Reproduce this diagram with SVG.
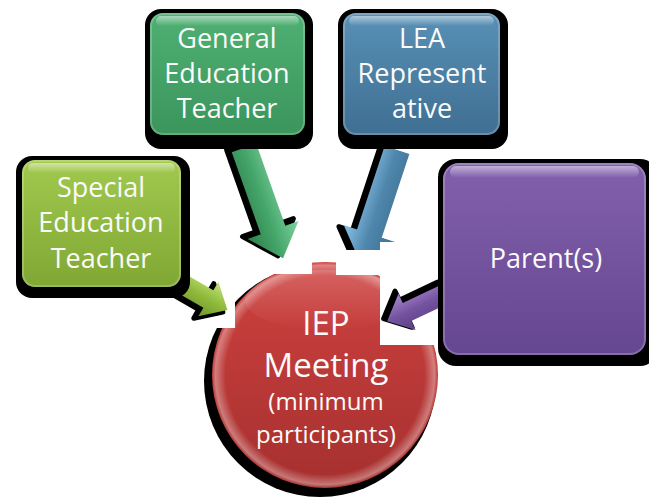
<svg xmlns="http://www.w3.org/2000/svg" width="649" height="498" viewBox="0 0 649 498">
<defs>
<style>
.t{font-family:"Open Sans","Liberation Sans",sans-serif;fill:#fbfbfb;text-anchor:middle}
.bt{font-size:27px}
.sh{fill:#000}
.ash{fill:#000;stroke:#000;stroke-width:5;stroke-linejoin:round}
.hl{fill:url(#gloss)}
.rim{fill:none;stroke:#ffffff;stroke-opacity:0.22;stroke-width:2}
</style>
<linearGradient id="gY" x1="0" y1="0" x2="0" y2="1"><stop offset="0" stop-color="#a2c94e"/><stop offset="1" stop-color="#7fa733"/></linearGradient>
<linearGradient id="gG" x1="0" y1="0" x2="0" y2="1"><stop offset="0" stop-color="#4fb073"/><stop offset="1" stop-color="#3b955c"/></linearGradient>
<linearGradient id="gB" x1="0" y1="0" x2="0" y2="1"><stop offset="0" stop-color="#5890b6"/><stop offset="1" stop-color="#3f6f92"/></linearGradient>
<linearGradient id="gP" x1="0" y1="0" x2="0" y2="1"><stop offset="0" stop-color="#8260ad"/><stop offset="1" stop-color="#654690"/></linearGradient>
<linearGradient id="gR" x1="0" y1="0" x2="0" y2="1"><stop offset="0" stop-color="#cf4240"/><stop offset="1" stop-color="#a5302f"/></linearGradient>
<linearGradient id="gloss" x1="0" y1="0" x2="0" y2="1"><stop offset="0" stop-color="#fff" stop-opacity="0.5"/><stop offset="1" stop-color="#fff" stop-opacity="0"/></linearGradient>
<linearGradient id="aG" x1="0" y1="0" x2="0" y2="1"><stop offset="0" stop-color="#7fd3a0"/><stop offset="0.5" stop-color="#45a66a"/><stop offset="1" stop-color="#2f7f4c"/></linearGradient>
<linearGradient id="aB" x1="0" y1="0" x2="0" y2="1"><stop offset="0" stop-color="#3f6f92"/><stop offset="0.5" stop-color="#4f86ac"/><stop offset="1" stop-color="#8cc3e6"/></linearGradient>
<linearGradient id="aY" x1="0" y1="0" x2="0" y2="1"><stop offset="0" stop-color="#c4e57a"/><stop offset="0.5" stop-color="#8fba3c"/><stop offset="1" stop-color="#6f962a"/></linearGradient>
<linearGradient id="aP" x1="0" y1="0" x2="0" y2="1"><stop offset="0" stop-color="#5b3f83"/><stop offset="0.5" stop-color="#7553a0"/><stop offset="1" stop-color="#a689cf"/></linearGradient>
<radialGradient id="rHi" cx="0.5" cy="0.5" r="0.5"><stop offset="0.88" stop-color="#fff" stop-opacity="0"/><stop offset="0.97" stop-color="#fff" stop-opacity="0.35"/><stop offset="1" stop-color="#fff" stop-opacity="0"/></radialGradient>
</defs>

<g id="meeting">
<circle class="sh" cx="320" cy="381" r="116"/>
<circle cx="325" cy="375" r="113" fill="url(#gR)"/>
<circle cx="325" cy="375" r="113" fill="url(#rHi)"/>
<ellipse cx="325" cy="300" rx="80" ry="30" fill="url(#gloss)" opacity="0.35"/>
</g>

<g id="connectors">
<g id="arrow-lea" transform="translate(397,150) rotate(108.3)">
<path class="ash" transform="translate(3,4)" d="M0,-13 L88,-13 L88,-27 L118,0 L88,27 L88,13 L0,13 Z"/>
<path fill="url(#aB)" d="M0,-13 L88,-13 L88,-27 L118,0 L88,27 L88,13 L0,13 Z"/>
</g>
</g>

<g id="cutouts" fill="#fff">
<rect x="186" y="262" width="49" height="66"/>
<rect x="235" y="250" width="77" height="24"/>
<rect x="336" y="250" width="44" height="25"/>
<rect x="380" y="242" width="57" height="103"/>
</g>

<g id="connectors2">
<g id="arrow-gen" transform="translate(244,148) rotate(70.5)">
<path class="ash" transform="translate(-4,4)" d="M0,-13 L87,-13 L87,-27 L117,0 L87,27 L87,13 L0,13 Z"/>
<path fill="url(#aG)" d="M0,-13 L87,-13 L87,-27 L117,0 L87,27 L87,13 L0,13 Z"/>
</g>
<g id="arrow-spec" transform="translate(172,278) rotate(30)">
<path class="ash" transform="translate(-3,4)" d="M0,-10 L42,-10 L42,-20 L64,0 L42,20 L42,10 L0,10 Z"/>
<path fill="url(#aY)" d="M0,-10 L42,-10 L42,-20 L64,0 L42,20 L42,10 L0,10 Z"/>
</g>
<g id="arrow-par" transform="translate(445,294) rotate(154.7)">
<path class="ash" transform="translate(2,4)" d="M0,-10 L42,-10 L42,-20 L64,0 L42,20 L42,10 L0,10 Z"/>
<path fill="url(#aP)" d="M0,-10 L42,-10 L42,-20 L64,0 L42,20 L42,10 L0,10 Z"/>
</g>
</g>

<g id="special">
<rect class="sh" x="16" y="156" width="174" height="142" rx="16"/>
<rect x="22" y="160" width="159" height="127" rx="13" fill="url(#gY)"/>
<rect x="28" y="163" width="147" height="10" rx="5" class="hl"/>
<rect x="23" y="161" width="157" height="125" rx="12" class="rim"/>
<text class="t bt" x="101" y="197">Special</text>
<text class="t bt" x="101" y="232">Education</text>
<text class="t bt" x="101" y="268">Teacher</text>
</g>

<g id="general">
<rect class="sh" x="145" y="9" width="168" height="140" rx="16"/>
<rect x="150" y="13" width="155" height="122" rx="13" fill="url(#gG)"/>
<rect x="156" y="16" width="143" height="10" rx="5" class="hl"/>
<rect x="151" y="14" width="153" height="120" rx="12" class="rim"/>
<text class="t bt" x="227" y="48">General</text>
<text class="t bt" x="227" y="83">Education</text>
<text class="t bt" x="227" y="118">Teacher</text>
</g>

<g id="lea">
<rect class="sh" x="338" y="9" width="170" height="140" rx="16"/>
<rect x="343" y="13" width="157" height="122" rx="13" fill="url(#gB)"/>
<rect x="349" y="16" width="145" height="10" rx="5" class="hl"/>
<rect x="344" y="14" width="155" height="120" rx="12" class="rim"/>
<text class="t bt" x="422" y="48">LEA</text>
<text class="t bt" x="422" y="83">Represent</text>
<text class="t bt" x="422" y="118">ative</text>
</g>

<g id="parent">
<rect class="sh" x="438" y="159" width="220" height="207" rx="18"/>
<rect x="443" y="163" width="203" height="192" rx="16" fill="url(#gP)"/>
<rect x="450" y="166" width="189" height="12" rx="6" class="hl"/>
<rect x="444" y="164" width="201" height="190" rx="15" class="rim"/>
<text class="t bt" x="546" y="268">Parent(s)</text>
</g>

<g id="meeting-text">
<text class="t" x="326" y="335" font-size="33">IEP</text>
<text class="t" x="326" y="377" font-size="33">Meeting</text>
<text class="t" x="326" y="410" font-size="24">(minimum</text>
<text class="t" x="326" y="443" font-size="24">participants)</text>
</g>
</svg>
